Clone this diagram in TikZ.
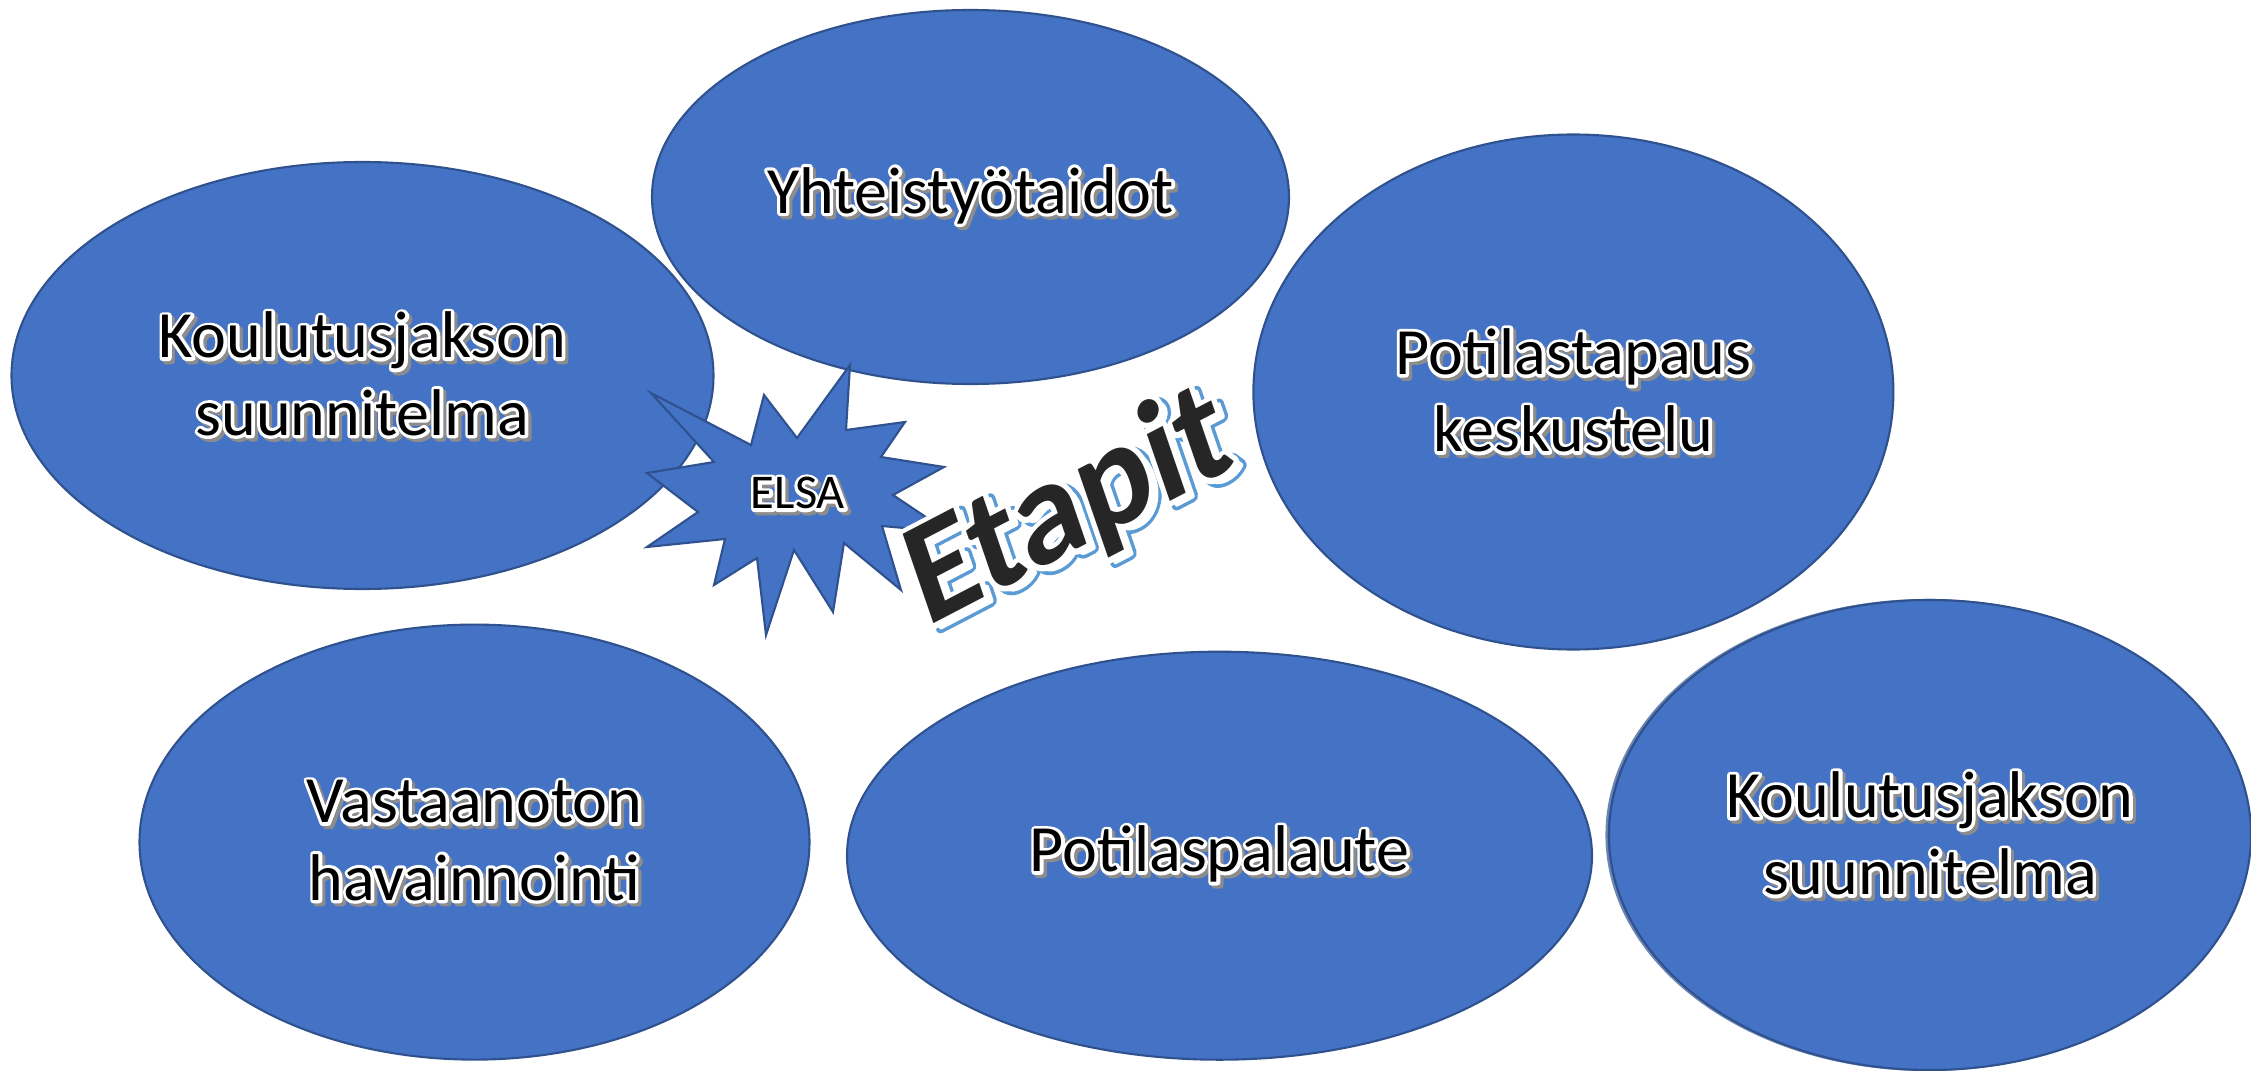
\documentclass[tikz,border=0pt]{standalone}
\usepackage{fontspec}
\setmainfont{Carlito}
\usetikzlibrary{shapes.geometric}
\definecolor{pallosin}{HTML}{4472C4}
\definecolor{reuna}{HTML}{2F528F}
\definecolor{varjo}{HTML}{8C8C8C}
\definecolor{tumma}{HTML}{262626}
\definecolor{sininen}{HTML}{5B9BD5}
% stroked text: colour, stroke width (bp), text
\newcommand\viiva[3]{{\color{#1}\special{pdf:literal direct 2 Tr #2 w 1 j}#3\special{pdf:literal direct 0 Tr}}}
\newcommand\rivi[1]{\rlap{\kern0.9pt\raisebox{-0.9pt}{\viiva{varjo}{1.8}{#1}}}\rlap{\viiva{white}{1.8}{#1}}#1}
\tikzset{
pallo/.style={ellipse,draw=reuna,fill=pallosin,line width=0.6pt,inner sep=0pt,align=center,font=\fontsize{18.8}{22}\selectfont},
tahti/.style={draw=reuna,fill=pallosin,line width=0.6pt,line join=miter}
}
\begin{document}
\begin{tikzpicture}
\fill[white](0,0)rectangle(22.51,10.70);
\useasboundingbox (0,0) rectangle (22.51,10.70);
%pallot
\draw[draw=reuna!70,fill=pallosin,line width=0.6pt](19.275,2.35)ellipse(3.21 and 2.35);
\foreach \n/\x/\y/\w/\h/\t in {kj1/3.625/6.945/7.02/4.27/{\rivi{Koulutusjakson}\\\rivi{suunnitelma}},
yt/9.705/8.73/6.37/3.74/{\rivi{Yhteistyötaidot}},
pt/15.734/6.78/6.40/5.15/{\rivi{Potilastapaus}\\\rivi{keskustelu}},
va/4.745/2.279/6.70/4.35/{\rivi{Vastaanoton}\\\rivi{havainnointi}},
pp/12.195/2.143/7.45/4.08/{\rivi{Potilaspalaute}},
kj2/19.30/2.35/6.42/4.70/{\rivi{Koulutusjakson}\\\rivi{suunnitelma}}}
{\node[pallo,minimum width=\w cm,minimum height=\h cm](\n) at (\x,\y){\t};}
%tahti
\draw[tahti](8.50,7.05)--(8.46,6.40)--(9.05,6.48)--(8.81,6.13)--(9.44,6.03)--(8.93,5.75)
--(9.48,5.38)--(8.82,5.44)--(9.01,4.80)--(8.44,5.27)--(8.33,4.58)--(7.94,5.20)
--(7.66,4.35)--(7.57,5.12)--(7.14,4.85)--(7.25,5.31)--(6.47,5.23)--(6.98,5.58)
--(6.47,5.97)--(7.14,6.08)--(6.51,6.77)--(7.51,6.25)--(7.64,6.75)--(7.97,6.32)--cycle;
\node[font=\fontsize{13.8}{16}\selectfont](elsa) at (7.98,5.75){\rivi{ELSA}};
%otsikko
\node[rotate=27.5,xslant=0.15,anchor=base west,inner sep=0pt,text=tumma,font=\bfseries\fontsize{41}{43}\selectfont](etapit) at (9.26,4.42)
{\rlap{\kern1.6pt\raisebox{-1.8pt}{\rlap{\viiva{sininen}{3.2}{Etapit}}\viiva{white}{1.2}{Etapit}}}\rlap{\viiva{white}{3}{Etapit}}Etapit};
\end{tikzpicture}
\end{document}
